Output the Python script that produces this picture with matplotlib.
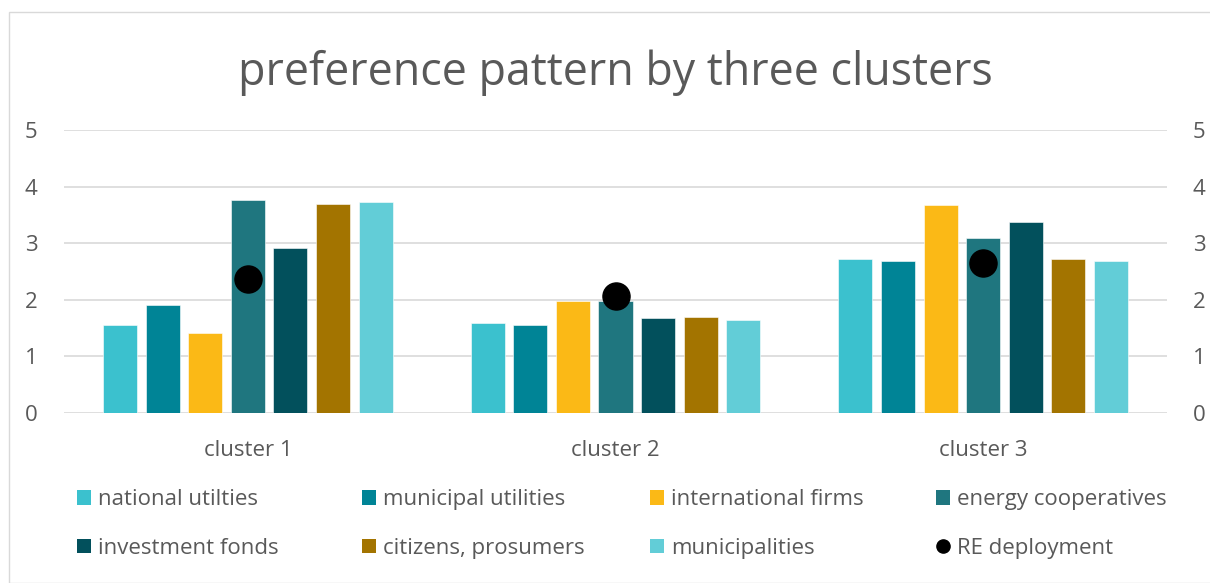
import matplotlib
matplotlib.use("Agg")
import matplotlib.pyplot as plt
import numpy as np
from matplotlib.patches import Patch, Rectangle
from matplotlib.lines import Line2D

plt.rcParams['font.family'] = ['Open Sans', 'DejaVu Sans']

clusters = ["cluster 1", "cluster 2", "cluster 3"]
series_names = ["national utilties", "municipal utilities", "international firms",
                "energy cooperatives", "investment fonds", "citizens, prosumers",
                "municipalities"]
national_utilities = [1.55, 1.59, 2.72]
municipal_utilities = [1.91, 1.55, 2.69]
international_firms = [1.42, 1.97, 3.68]
energy_cooperatives = [3.77, 1.97, 3.10]
investment_fonds = [2.92, 1.68, 3.37]
citizens_prosumers = [3.70, 1.69, 2.72]
municipalities = [3.72, 1.65, 2.68]
re_deployment = [2.37, 2.06, 2.65]
colors = ["#3BC1CE", "#008496", "#FBB916", "#1F767F", "#02505C", "#A37400", "#62CDD7"]
yticks = [0, 1, 2, 3, 4, 5]

series = [national_utilities, municipal_utilities, international_firms,
          energy_cooperatives, investment_fonds, citizens_prosumers, municipalities]

W, H = 1210, 583
fig = plt.figure(figsize=(W / 100, H / 100), dpi=100)
fig.patch.set_facecolor("white")
# chart border
fig.patches.append(Rectangle((9 / W, 0), 1.2, 1 - 12 / H, transform=fig.transFigure,
                             fill=False, edgecolor="#D9D9D9", linewidth=1.0))

ax = fig.add_axes([64 / W, 1 - 413 / H, (1167 - 64) / W, (413 - 130) / H])
x = np.arange(len(clusters))
pitch = 0.116
width = 0.0925
for i, (vals, c) in enumerate(zip(series, colors)):
    ax.bar(x + (i - 3) * pitch, vals, width=width, color=c, zorder=2,
           edgecolor="white", linewidth=0.4)
ax.plot(x, re_deployment, "o", color="black", markersize=19.5, zorder=3)

ax.set_xlim(-0.5, 2.5)
ax.set_ylim(0, 5)
ax.set_yticks(yticks)
ax.set_xticks(x)
ax.set_xticklabels(clusters)
ax.grid(axis="y", color="#D9D9D9", linewidth=1.2, zorder=0)
ax.set_axisbelow(True)
for s in ax.spines.values():
    s.set_visible(False)
ax.tick_params(axis="both", length=0, colors="#595959", labelsize=16)
ax.tick_params(axis="y", pad=19)
ax.tick_params(axis="x", pad=19.5)

ax2 = ax.twinx()
ax2.set_ylim(0, 5)
ax2.set_yticks(yticks)
for s in ax2.spines.values():
    s.set_visible(False)
ax2.tick_params(axis="y", length=0, colors="#595959", labelsize=16, pad=18.5)

fig.text(615 / W, 1 - 73 / H, "preference pattern by three clusters",
         ha="center", va="center", fontsize=32.2, color="#595959")

handles = [Patch(facecolor=c, edgecolor="none") for c in colors]
handles.append(Line2D([], [], marker="o", color="black", linestyle="none", markersize=9.5))
labels = series_names + ["RE deployment"]
col_x = [77, 362, 650, 936]
for col in range(4):
    idx = [col, col + 4]
    leg = fig.legend([handles[i] for i in idx], [labels[i] for i in idx],
                     loc="upper left", bbox_to_anchor=(col_x[col] / W, 1 - 489 / H),
                     frameon=False, fontsize=16, labelcolor="#595959",
                     handlelength=0.65, handleheight=0.65, handletextpad=0.28,
                     labelspacing=1.25, borderpad=0, borderaxespad=0)

fig.savefig("out.png", dpi=100)
